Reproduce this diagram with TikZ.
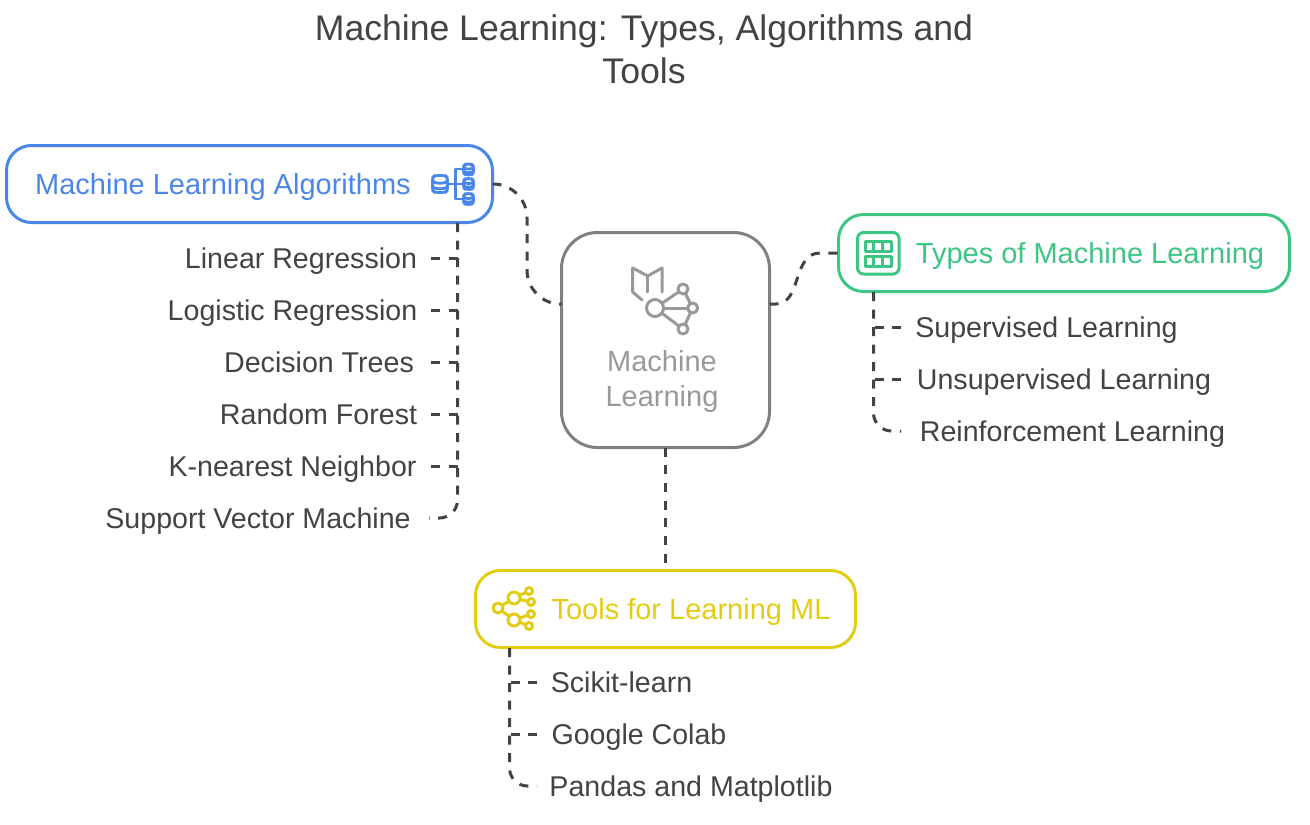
\documentclass[tikz,border=0pt]{standalone}
\usepackage{fontspec}
\setmainfont{Liberation Sans}
\usetikzlibrary{arrows.meta, positioning}

\definecolor{inkgray}{HTML}{434343}
\definecolor{algoblue}{HTML}{4A86E8}
\definecolor{typegreen}{HTML}{3CC583}
\definecolor{toolyellow}{HTML}{E2CD14}
\definecolor{mlgray}{HTML}{808080}
\definecolor{mltext}{HTML}{999999}

\newcommand{\dbicon}[4]{% x, y, half width, half height
  \draw[rounded corners=3pt] (#1-#3,#2-#4+2) -- (#1-#3,#2+#4-2) -- (#1-#3+2,#2+#4) -- (#1+#3-2,#2+#4) -- (#1+#3,#2+#4-2) -- (#1+#3,#2-#4+2) -- (#1+#3-2,#2-#4) -- (#1-#3+2,#2-#4) -- cycle;
  \draw (#1-#3,#2-#4/3) .. controls (#1-#3/2,#2) and (#1+#3/2,#2) .. (#1+#3,#2-#4/3);
  \draw (#1-#3,#2+#4/3) .. controls (#1-#3/2,#2+#4*0.66) and (#1+#3/2,#2+#4*0.66) .. (#1+#3,#2+#4/3);
}

\begin{document}
\begin{tikzpicture}[
x=1pt, y=-1pt,
titlelabel/.style={text=inkgray, font=\fontsize{35.6}{43}\selectfont, align=center, inner sep=0pt},
itemlabel/.style={text=inkgray, font=\fontsize{28.6}{32}\selectfont, inner sep=0pt, text height=27pt, text depth=6pt},
headlabel/.style={font=\fontsize{29}{32}\selectfont, inner sep=0pt, text height=27pt, text depth=6pt},
box/.style={draw, rectangle, line width=3pt, rounded corners=25pt, outer sep=0pt, inner sep=0pt},
link/.style={draw=inkgray, line width=3pt, dash pattern=on 9pt off 8.5pt},
icon/.style={line width=3pt, line join=round, line cap=round}
]
\useasboundingbox (0,0) rectangle (1310,825);

% title
\node[titlelabel] (title) at (644,49.5) {Machine Learning: Types, Algorithms and\\Tools};

% boxes
\node[box, draw=mlgray, rounded corners=36pt, minimum width=208pt, minimum height=215pt] (ml) at (665.5,340) {};
\node[box, draw=algoblue, minimum width=486pt, minimum height=77pt] (algo) at (249.5,184) {};
\node[box, draw=typegreen, minimum width=451pt, minimum height=77pt] (types) at (1064,253) {};
\node[box, draw=toolyellow, minimum width=380pt, minimum height=77pt] (tools) at (665.5,609) {};

% box texts
\node[text=mltext, font=\fontsize{29}{35}\selectfont, align=center, inner sep=0pt] (mltitle) at (662,381) {Machine\\Learning};
\node[headlabel, text=algoblue] (algotitle) at (223,184) {Machine Learning Algorithms};
\node[headlabel, text=typegreen] (typestitle) at (1090,253) {Types of Machine Learning};
\node[headlabel, text=toolyellow] (toolstitle) at (691,609) {Tools for Learning ML};

% left list
\node[itemlabel] (lin) at (301,258) {Linear Regression};
\node[itemlabel] (log) at (292.5,310) {Logistic Regression};
\node[itemlabel] (dec) at (319,362) {Decision Trees};
\node[itemlabel] (ran) at (318.5,414) {Random Forest};
\node[itemlabel] (knn) at (292.5,466) {K-nearest Neighbor};
\node[itemlabel] (svm) at (258,518) {Support Vector Machine};

% right list
\node[itemlabel] (sup) at (1046.5,327) {Supervised Learning};
\node[itemlabel] (uns) at (1064,379) {Unsupervised Learning};
\node[itemlabel] (rei) at (1072.5,431) {Reinforcement Learning};

% bottom list
\node[itemlabel] (sci) at (621.5,682) {Scikit-learn};
\node[itemlabel] (col) at (639,734) {Google Colab};
\node[itemlabel] (pan) at (691,786) {Pandas and Matplotlib};

% where the legs run
\coordinate (algoleg) at (457.5,223);
\coordinate (algotip) at (431,223);
\coordinate (svmtip) at (429,223);
\coordinate (typesleg) at (873.5,292);
\coordinate (typestip) at (901,292);
\coordinate (toolsleg) at (509.5,648);
\coordinate (toolstip) at (537,648);

% connectors
\draw[link, rounded corners=34pt] (algo.east) -- (527,184) -- (527,304) -- (ml.161);
\draw[link] (ml.19) -- (776,304) .. controls (802,304) and (792,253) .. (820,253) -- (types.west);
\draw[link, dash pattern=on 9pt off 8.7pt] (ml.south) -- (tools.north);

\draw[link] (lin.east -| algotip) -- (lin.east -| algoleg);
\draw[link] (log.east -| algotip) -- (log.east -| algoleg);
\draw[link] (dec.east -| algotip) -- (dec.east -| algoleg);
\draw[link] (ran.east -| algotip) -- (ran.east -| algoleg);
\draw[link] (knn.east -| algotip) -- (knn.east -| algoleg);
\draw[link, rounded corners=18pt] (algoleg) -- (svm.east -| algoleg) -- (svm.east -| svmtip);

\draw[link] (sup.west -| typestip) -- (sup.west -| typesleg);
\draw[link] (uns.west -| typestip) -- (uns.west -| typesleg);
\draw[link, rounded corners=18pt] (typesleg) -- (rei.west -| typesleg) -- (rei.west -| typestip);

\draw[link] (sci.west -| toolstip) -- (sci.west -| toolsleg);
\draw[link] (col.west -| toolstip) -- (col.west -| toolsleg);
\draw[link, rounded corners=18pt] (toolsleg) -- (pan.west -| toolsleg) -- (pan.west -| toolstip);

% icon of the algorithms box
\begin{scope}[icon, draw=algoblue, line width=2.8pt]
\dbicon{440}{184}{7.5}{8.5}
\dbicon{468.5}{169.5}{5}{5.5}
\dbicon{468.5}{184}{5}{5.5}
\dbicon{468.5}{199}{5}{5.5}
\draw (449,184) -- (463,184);
\draw (462,169) -- (455.5,169) -- (455.5,199) -- (462,199);
\end{scope}

% icon of the machine learning box
\begin{scope}[icon, draw=mltext]
\draw (642,300) -- (632.7,292) -- (632.7,268) -- (647.7,276) -- (662,268) -- (662,292);
\draw (647.7,276) -- (647.7,292);
\draw (655,308) -- (683,289) -- (692.7,308) -- (683,329) -- (655,308);
\draw (655,308) -- (692.7,308);
\filldraw[fill=white] (655,308) circle (8.5pt);
\filldraw[fill=white] (683,289) circle (5pt);
\filldraw[fill=white] (692.7,308) circle (5pt);
\filldraw[fill=white] (683,329) circle (5pt);
\end{scope}

% icon of the types box
\begin{scope}[icon, draw=typegreen]
\draw[rounded corners=6pt] (857.5,232.5) rectangle (899,274);
\draw (865,241) rectangle (891,251);
\draw (865,256) rectangle (891,266);
\draw (873.7,241) -- (873.7,251) (882.3,241) -- (882.3,251);
\draw (873.7,256) -- (873.7,266) (882.3,256) -- (882.3,266);
\end{scope}

% icon of the tools box
\begin{scope}[icon, draw=toolyellow, line width=3pt]
\draw (498,608) -- (514,598) -- (529,591) (514,598) -- (531,602);
\draw (498,608) -- (514,620) -- (531,614) (514,620) -- (529,626);
\filldraw[fill=white] (498,608) circle (5pt);
\filldraw[fill=white] (514,598) circle (6pt);
\filldraw[fill=white] (514,620) circle (6pt);
\filldraw[fill=white] (529,591) circle (3.5pt);
\filldraw[fill=white] (531,602) circle (3.5pt);
\filldraw[fill=white] (531,614) circle (3.5pt);
\filldraw[fill=white] (529,626) circle (3.5pt);
\end{scope}

\end{tikzpicture}
\end{document}
